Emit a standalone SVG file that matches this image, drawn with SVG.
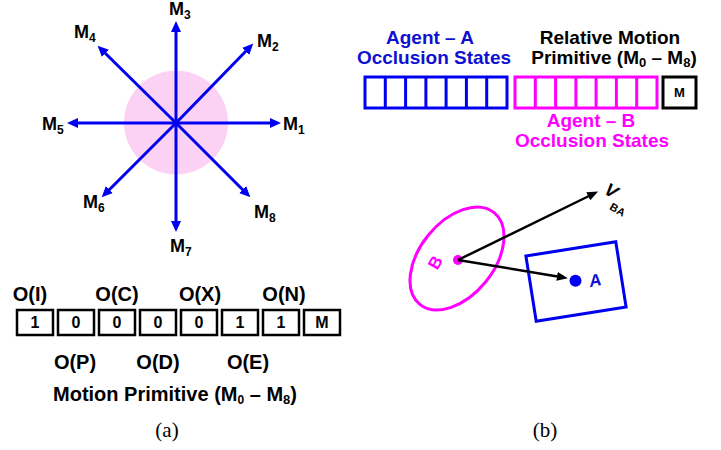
<svg xmlns="http://www.w3.org/2000/svg" width="721" height="450" viewBox="0 0 721 450">
<defs>
<style>
.t{font-family:"Liberation Sans",Arial,sans-serif;font-weight:bold;fill:#000}
.m{font-size:18px}
.s{font-size:12px}
.b20{font-size:20px}
.b19{font-size:19px}
.cap{font-family:"Liberation Serif","Times New Roman",serif;font-size:21px;fill:#000}
.ar{stroke:#0000f0;stroke-width:3;fill:none;marker-end:url(#hb)}
.ak{stroke:#000;stroke-width:2.5;fill:none;marker-end:url(#hk)}
.box{fill:#fff;stroke:#000;stroke-width:2.5}
.blue{fill:#1010d0}
.mag{fill:#ff00ff}
</style>
<marker id="hb" markerUnits="userSpaceOnUse" markerWidth="11" markerHeight="10" refX="2" refY="5" orient="auto"><path d="M0,0 L11,5 L0,10 z" fill="#0000f0"/></marker>
<marker id="hk" markerUnits="userSpaceOnUse" markerWidth="11" markerHeight="9" refX="2" refY="4.5" orient="auto"><path d="M0,0 L11,4.5 L0,9 z" fill="#000"/></marker>
</defs>
<rect width="721" height="450" fill="#fff"/>

<g id="star">
<circle cx="176" cy="122.5" r="52" fill="#fcd2f4"/>
<g id="connectors">
<line class="ar" x1="176" y1="123" x2="272" y2="123"/>
<line class="ar" x1="176" y1="123" x2="76" y2="123"/>
<line class="ar" x1="176" y1="123" x2="176" y2="30"/>
<line class="ar" x1="176" y1="123" x2="176" y2="223"/>
<line class="ar" x1="176" y1="123" x2="247" y2="50"/>
<line class="ar" x1="176" y1="123" x2="104" y2="52"/>
<line class="ar" x1="176" y1="123" x2="108" y2="191"/>
<line class="ar" x1="176" y1="123" x2="244" y2="191"/>
</g>
<text class="t m" x="283" y="130">M<tspan class="s" dy="4">1</tspan></text>
<text class="t m" x="257" y="47">M<tspan class="s" dy="4">2</tspan></text>
<text class="t m" x="169" y="15">M<tspan class="s" dy="4">3</tspan></text>
<text class="t m" x="74" y="38">M<tspan class="s" dy="4">4</tspan></text>
<text class="t m" x="42" y="130">M<tspan class="s" dy="4">5</tspan></text>
<text class="t m" x="83" y="208">M<tspan class="s" dy="4">6</tspan></text>
<text class="t m" x="170" y="252">M<tspan class="s" dy="4">7</tspan></text>
<text class="t m" x="254" y="218">M<tspan class="s" dy="4">8</tspan></text>
</g>

<g id="bits-a">
<g text-anchor="middle">
<text class="t b20" x="30" y="301">O(I)</text>
<text class="t b20" x="117" y="301">O(C)</text>
<text class="t b20" x="200" y="301">O(X)</text>
<text class="t b20" x="284" y="301">O(N)</text>
<text class="t b20" x="75" y="369">O(P)</text>
<text class="t b20" x="158" y="369">O(D)</text>
<text class="t b20" x="248" y="369">O(E)</text>
</g>
<rect class="box" x="17" y="310" width="36" height="25"/>
<rect class="box" x="58" y="310" width="36" height="25"/>
<rect class="box" x="99" y="310" width="36" height="25"/>
<rect class="box" x="140" y="310" width="36" height="25"/>
<rect class="box" x="181" y="310" width="36" height="25"/>
<rect class="box" x="222" y="310" width="36" height="25"/>
<rect class="box" x="263" y="310" width="36" height="25"/>
<rect class="box" x="304" y="310" width="36" height="25"/>
<g text-anchor="middle" class="t" font-size="16">
<text x="35" y="328">1</text>
<text x="76" y="328">0</text>
<text x="117" y="328">0</text>
<text x="158" y="328">0</text>
<text x="199" y="328">0</text>
<text x="240" y="328">1</text>
<text x="281" y="328">1</text>
<text x="322" y="328">M</text>
</g>
<text class="t b20" x="175" y="401" text-anchor="middle">Motion Primitive (M<tspan class="s" font-size="13" dy="3">0</tspan><tspan dy="-3"> – M</tspan><tspan font-size="13" dy="3">8</tspan><tspan dy="-3">)</tspan></text>
<text class="cap" x="167" y="437" text-anchor="middle">(a)</text>
</g>

<g id="bits-b">
<g text-anchor="middle">
<text class="t b19 blue" x="430" y="44">Agent – A</text>
<text class="t b19 blue" x="434" y="64">Occlusion States</text>
<text class="t b19" x="610" y="44">Relative Motion</text>
<text class="t b19" x="614" y="64">Primitive (M<tspan font-size="13" dy="3">0</tspan><tspan dy="-3"> – M</tspan><tspan font-size="13" dy="3">8</tspan><tspan dy="-3">)</tspan></text>
<text class="t b19 mag" x="591" y="127">Agent – B</text>
<text class="t b19 mag" x="592" y="147">Occlusion States</text>
</g>
<g fill="none" stroke="#0000f0" stroke-width="3">
<rect x="365" y="77" width="142" height="31"/>
<path d="M385.3,77V108M405.6,77V108M425.9,77V108M446.1,77V108M466.4,77V108M486.7,77V108"/>
</g>
<g fill="none" stroke="#ff00ff" stroke-width="3">
<rect x="515" y="77" width="142" height="31"/>
<path d="M535.3,77V108M555.6,77V108M575.9,77V108M596.1,77V108M616.4,77V108M636.7,77V108"/>
</g>
<rect x="663" y="77" width="33" height="31" fill="none" stroke="#000" stroke-width="3"/>
<text class="t" font-size="13" x="679.5" y="97" text-anchor="middle">M</text>
</g>

<g id="agent-b">
<ellipse cx="457" cy="258.5" rx="59" ry="37" transform="rotate(-51 457 258.5)" fill="none" stroke="#ff00ff" stroke-width="3"/>
<circle cx="458" cy="260" r="5" fill="#ff00ff"/>
<text class="t mag" font-size="17" text-anchor="middle" transform="translate(435 262.5) rotate(-60)" y="6">B</text>
</g>

<g id="agent-a">
<rect x="-45.5" y="-33" width="91" height="66" transform="translate(576 281.5) rotate(-9)" fill="none" stroke="#0000f0" stroke-width="3"/>
<circle cx="575.5" cy="280.7" r="6" fill="#0000f0"/>
<text class="t blue" font-size="17" font-style="italic" text-anchor="middle" transform="translate(595 280) rotate(-12)" y="6">A</text>
</g>

<g id="connectors-b">
<line class="ak" x1="458" y1="260" x2="559" y2="276.7"/>
<line class="ak" x1="458" y1="260" x2="590" y2="195.5"/>
</g>
<g id="vba" transform="translate(603 193) rotate(30)">
<text class="t" font-size="18" font-style="italic" x="0" y="0">V</text>
<text class="t" font-size="11" x="13" y="11">BA</text>
</g>
<text class="cap" x="545" y="437" text-anchor="middle">(b)</text>
</svg>
